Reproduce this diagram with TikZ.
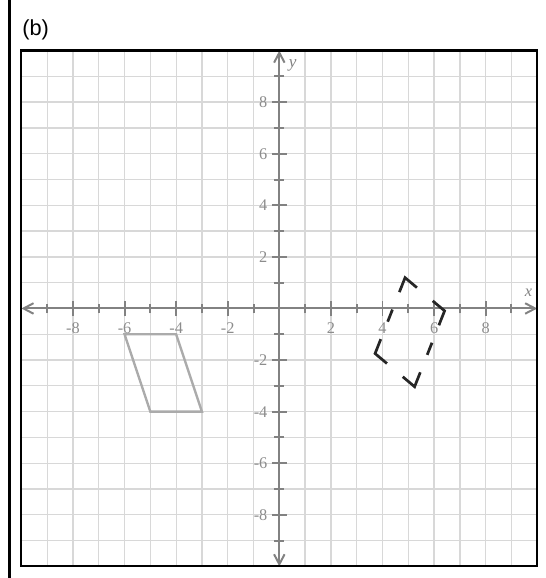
\documentclass[tikz,border=0pt]{standalone}
\usepackage{fontspec}
\setmainfont{Liberation Serif}
\newfontfamily\arialfont{Liberation Sans}
\usetikzlibrary{calc,arrows.meta}
\definecolor{gridgray}{HTML}{D8D8D8}
\definecolor{axisgray}{HTML}{828282}
\definecolor{labgray}{HTML}{8C8C8C}
\definecolor{shapegray}{HTML}{ABABAB}

\begin{document}
\begin{tikzpicture}[scale=0.5, gridln/.style = {draw=gridgray,line width=0.7pt}, axs/.style = {draw=axisgray,line width=1.1pt,{Straight Barb[length=5.5pt,width=5.8pt]}-{Straight Barb[length=5.5pt,width=5.8pt]}}, tck/.style = {draw=axisgray,line width=1.1pt}, numlab/.style = {text=labgray,inner sep=0pt,font=\fontsize{9}{10}\selectfont}, shapeln/.style = {draw=shapegray,line width=1.3pt}, dashln/.style = {draw=black!85,line width=1.5pt}]
\useasboundingbox (-10.83,-10.45) rectangle (10.31,11.96);
\draw[line width=1.5pt] (-10.45,11.96) -- (-10.45,-10.45);
\node (lb) [font=\arialfont\fontsize{12}{14}\selectfont] at (-9.45,10.81) {(b)};
\foreach \i in {-9,...,9}
{\draw[gridln] (\i,-10) -- (\i,10);
\draw[gridln] (-10,\i) -- (10,\i);}
\coordinate (xw) at (-10,0);
\coordinate (xe) at (10,0);
\coordinate (ys) at (0,-10);
\coordinate (yn) at (0,10);
\draw[axs] (xw) -- (xe);
\draw[axs] (ys) -- (yn);
\foreach \i in {-9,-7,-5,-3,-1,1,3,5,7,9}
{\draw[tck] (\i,-0.19) -- (\i,0.19);
\draw[tck] (-0.19,\i) -- (0.19,\i);}
\foreach \i in {-8,-6,-4,-2,2,4,6,8}
{\draw[tck] (\i,-0.3) -- (\i,0.3);
\draw[tck] (-0.3,\i) -- (0.3,\i);
\node (xl\i) [numlab] at (\i,-0.75) {\i};
\node (yl\i) [numlab,anchor=east] at (-0.45,\i) {\i};}
\node (xlab) [text=axisgray,font=\fontsize{9}{10}\selectfont\itshape] at (9.66,0.6) {x};
\node (ylab) [text=axisgray,font=\fontsize{9.5}{10}\selectfont\itshape] at (0.52,9.44) {y};
% original figure
\coordinate (p1) at (-6,-1);
\coordinate (p2) at (-4,-1);
\coordinate (p3) at (-3,-4);
\coordinate (p4) at (-5,-4);
\draw[shapeln] (p1) -- (p2) -- (p3) -- (p4) -- cycle;
% image figure
\begin{scope}[shift={(5.06,-0.92)},rotate=-40]
\coordinate (q1) at (-1.5,1.5);
\coordinate (q2) at (0.5,1.5);
\coordinate (q3) at (1.5,-1.5);
\coordinate (q4) at (-0.5,-1.5);
\end{scope}
\foreach \p/\v/\n/\a/\b in {q4/q1/q2/0.19/0.3, q1/q2/q3/0.3/0.19, q2/q3/q4/0.19/0.3, q3/q4/q1/0.3/0.19}
\draw[dashln] ($(\v)!\a!(\p)$) -- (\v) -- ($(\v)!\b!(\n)$);
\foreach \from/\to in {q2/q3, q4/q1}
\draw[dashln] ($(\from)!0.42!(\to)$) -- ($(\from)!0.58!(\to)$);
\draw[line width=1.2pt] (-10,-10) rectangle (10,10);
\end{tikzpicture}
\end{document}
